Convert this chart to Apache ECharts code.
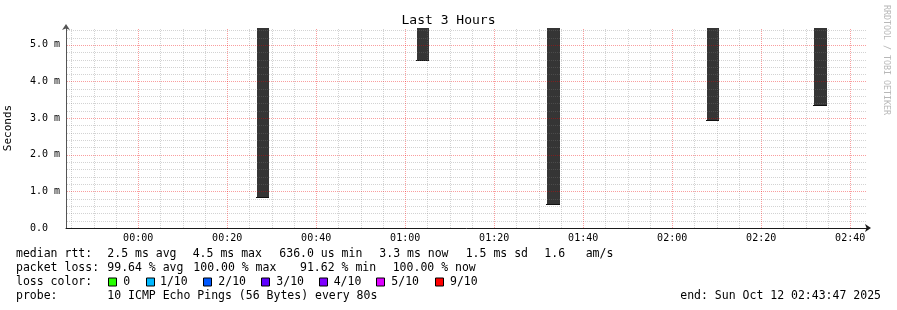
<!DOCTYPE html>
<html><head><meta charset="utf-8">
<script src="https://cdn.jsdelivr.net/npm/echarts@6/dist/echarts.min.js"></script>
<style>html,body{margin:0;padding:0;background:#fff}#c{width:897px;height:310px}</style>
</head><body><div id="c"></div>
<script>
// ---- data ----
const barTimes = [28.1, 64.0, 93.3, 129.2, 153.3];   // minutes after 00:00 (Oct 12)
const barLows = [0.81, 4.55, 0.636, 2.93, 3.33];     // ms, bottom of smoke bar
const barSpanMin = 2.8;                               // width of each bar in minutes
const xMin = -16.2167, xMax = 163.7833;               // 23:43:47 .. 02:43:47
const yMin = 0, yMax = 5.46;
const xMajorTicks = [0, 20, 40, 60, 80, 100, 120, 140, 160];
const xTickLabels = ['00:00','00:20','00:40','01:00','01:20','01:40','02:00','02:20','02:40'];
const xMinorTicks = [-15,-10,-5,5,10,15,25,30,35,45,50,55,65,70,75,85,90,95,105,110,115,125,130,135,145,150,155];
const yMajorTicks = [0, 1, 2, 3, 4, 5];
const yTickLabels = ['0.0  ','1.0 m','2.0 m','3.0 m','4.0 m','5.0 m'];
const yMinorTicks = [0.2,0.4,0.6,0.8,1.2,1.4,1.6,1.8,2.2,2.4,2.6,2.8,3.2,3.4,3.6,3.8,4.2,4.4,4.6,4.8,5.2,5.4];
const lossLabels = ['0','1/10','2/10','3/10','4/10','5/10','9/10'];
const lossColors = ['#26ff00','#00b8ff','#0059ff','#5e00ff','#7e00ff','#dd00ff','#ff0000'];
const rttLine = ['median rtt:','2.5 ms avg','4.5 ms max','636.0 us min','3.3 ms now','1.5 ms sd','1.6','am/s'];
const lossLine = ['packet loss:','99.64 % avg','100.00 % max','91.62 % min','100.00 % now'];
const probeLine = ['probe:','10 ICMP Echo Pings (56 Bytes) every 80s'];
const endText = 'end: Sun Oct 12 02:43:47 2025';

// ---- layout / style ----
const MONO = 'DejaVu Sans Mono';
const FS = 11.5;
const MINOR_C = 'rgba(120,120,120,0.33)', MAJOR_C = 'rgba(240,0,0,0.38)';
const rttX = [16,107.3,192.7,279.3,379.3,465.7,544.3,585.7];
const lossX = [16,107.3,193.3,300,392.7];
const sqX = [108.3,146,202.7,261.3,318.7,376.3,435];
const lblX = [123.3,160,218.3,276.3,333.7,391.3,450];
const rowY = [254.5,268.5,282.5,296.5];

const graphic = [];
function txt(x, y, s) {
  graphic.push({type:'text', x:x, y:y, silent:true,
    style:{text:s, fontFamily:MONO, fontSize:FS, fill:'#000', align:'left', verticalAlign:'middle'}});
}
rttLine.forEach((s,i)=>txt(rttX[i], rowY[0], s));
lossLine.forEach((s,i)=>txt(lossX[i], rowY[1], s));
txt(16, rowY[2], 'loss color:');
lossLabels.forEach((s,i)=>{
  graphic.push({type:'rect', silent:true, shape:{x:Math.round(sqX[i])+0.5, y:rowY[2]-4.5, width:8, height:8},
    style:{fill:lossColors[i], stroke:'#000', lineWidth:1}});
  txt(lblX[i], rowY[2], s);
});
probeLine.forEach((s,i)=>txt([16,107.3][i], rowY[3], s));
graphic.push({type:'text', x:881, y:rowY[3], silent:true,
  style:{text:endText, fontFamily:MONO, fontSize:FS, fill:'#000', align:'right', verticalAlign:'middle'}});
graphic.push({type:'text', x:886, y:5, rotation:-Math.PI/2, silent:true,
  style:{text:'RRDTOOL / TOBI OETIKER', fontFamily:MONO, fontSize:8.3, fill:'#b8b8b8', align:'left', verticalAlign:'middle'}});

function vGrid(name, ticks, color) {
  return {type:'custom', name:name, z:4, silent:true, clip:false,
    data:ticks.map(v=>[v, yMin]),
    renderItem:function(params, api){
      const v = api.value(0);
      const a = api.coord([v, yMin]), b = api.coord([v, yMax]);
      const x = Math.round(a[0]) + 0.5;
      return {type:'line', shape:{x1:x, y1:Math.round(a[1]), x2:x, y2:Math.round(b[1])},
        style:{stroke:color, fill:null, lineWidth:1, lineDash:[1,1]}};
    }};
}
function hGrid(name, ticks, color) {
  return {type:'custom', name:name, z:4, silent:true, clip:false,
    data:ticks.filter(v=>v>yMin).map(v=>[xMin, v]),
    renderItem:function(params, api){
      const v = api.value(1);
      const a = api.coord([xMin, v]), b = api.coord([xMax, v]);
      const y = Math.round(a[1]) + 0.5;
      return {type:'line', shape:{x1:Math.round(a[0])+1, y1:y, x2:Math.round(b[0]), y2:y},
        style:{stroke:color, fill:null, lineWidth:1, lineDash:[1,1]}};
    }};
}

const chart = echarts.init(document.getElementById('c'), null, {renderer:'canvas'});
chart.setOption({
  animation:false,
  backgroundColor:'#fff',
  title:{text:'Last 3 Hours', left:'center', top:9,
    textStyle:{fontFamily:MONO, fontSize:13, fontWeight:'normal', color:'#000'}},
  grid:{left:66, top:28, width:801, height:200, containLabel:false, outerBoundsMode:'none'},
  xAxis:[
    {type:'value', min:xMin, max:xMax, position:'bottom', z:10,
      axisLine:{show:true, onZero:false, symbol:['none','arrow'], symbolSize:[6,6], symbolOffset:[0,4],
        lineStyle:{color:'#1a1a1a', width:1}},
      axisTick:{show:false},
      axisLabel:{show:true, customValues:xMajorTicks, margin:5,
        formatter:v=>xTickLabels[xMajorTicks.indexOf(Math.round(v))],
        fontFamily:MONO, fontSize:10, color:'#000'},
      splitLine:{show:false}}
  ],
  yAxis:[
    {type:'value', min:yMin, max:yMax, position:'left', z:10,
      name:'Seconds', nameLocation:'middle', nameGap:52, nameRotate:90,
      nameTextStyle:{fontFamily:MONO, fontSize:11, color:'#000'},
      axisLine:{show:true, onZero:false, symbol:['none','arrow'], symbolSize:[6,6], symbolOffset:[0,4],
        lineStyle:{color:'#555', width:1}},
      axisTick:{show:false},
      axisLabel:{show:true, customValues:yMajorTicks, margin:6,
        formatter:v=>yTickLabels[yMajorTicks.indexOf(Math.round(v))],
        fontFamily:MONO, fontSize:10, color:'#000'},
      splitLine:{show:false}}
  ],
  graphic:graphic,
  series:[
    {type:'custom', name:'smoke', z:3, clip:false,
      data:barTimes.map((t,i)=>[t, barLows[i]]),
      renderItem:function(params, api){
        const t = api.value(0), low = api.value(1);
        const p1 = api.coord([t - barSpanMin/2, yMax]);
        const p2 = api.coord([t + barSpanMin/2, low]);
        const x1 = Math.round(p1[0]), x2 = Math.round(p2[0]);
        const yTop = Math.round(p1[1]), yBot = Math.round(p2[1]);
        return {type:'group', children:[
          {type:'rect', shape:{x:x1, y:yTop, width:x2-x1, height:yBot-yTop}, style:{fill:'#353535'}},
          {type:'line', shape:{x1:x1-1, y1:yBot-0.5, x2:x2, y2:yBot-0.5}, style:{stroke:'#111', lineWidth:1}}
        ]};
      }},
    vGrid('vMinor', xMinorTicks, MINOR_C),
    hGrid('hMinor', yMinorTicks, MINOR_C),
    vGrid('vMajor', xMajorTicks, MAJOR_C),
    hGrid('hMajor', yMajorTicks, MAJOR_C)
  ]
});
</script></body></html>
